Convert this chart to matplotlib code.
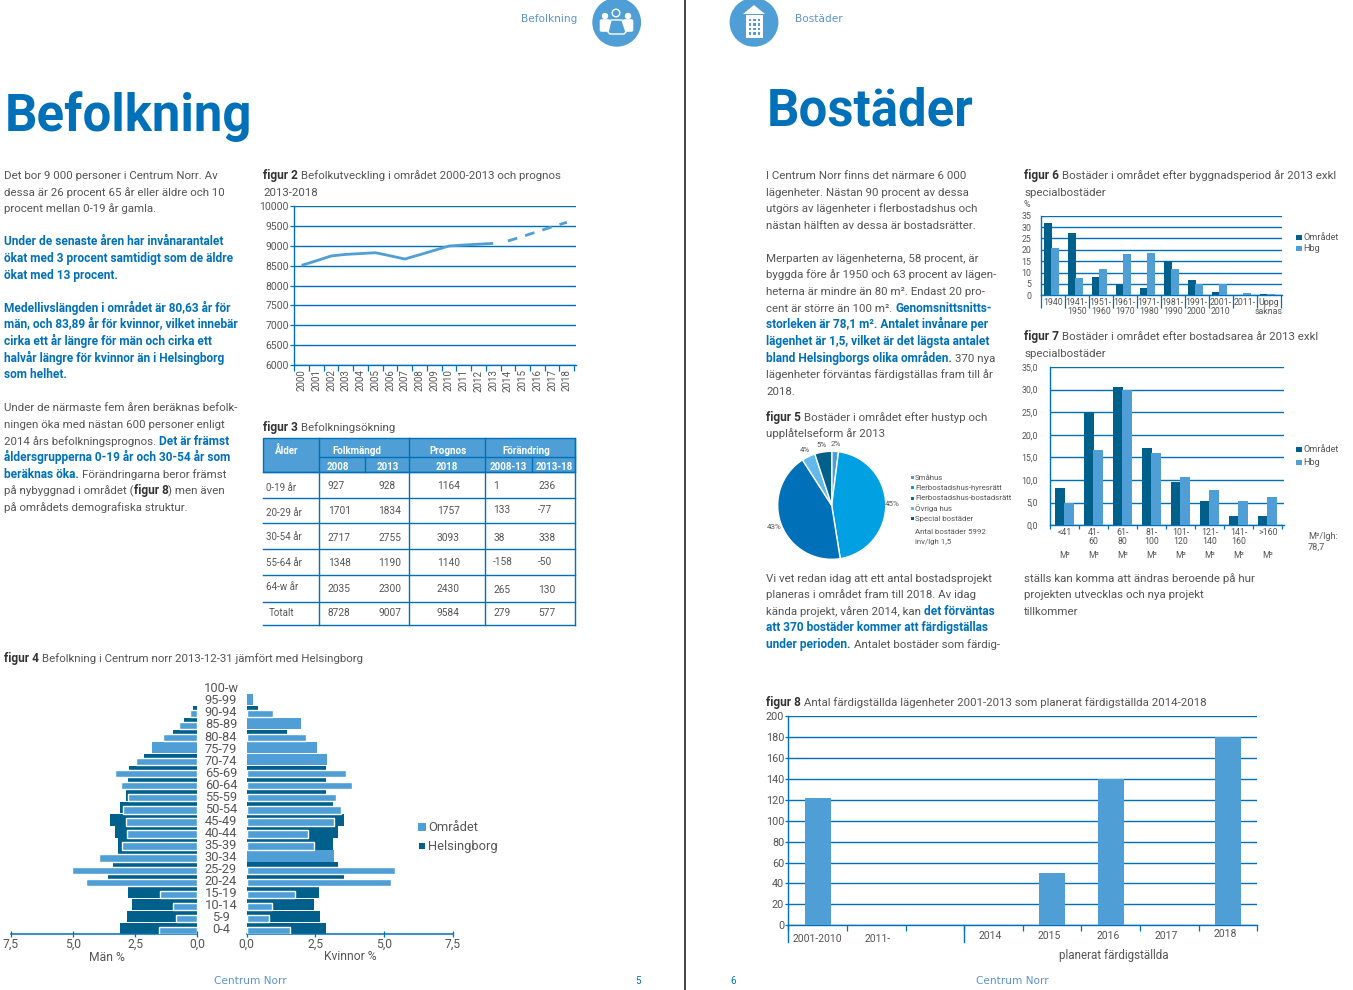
import numpy as np
import matplotlib
matplotlib.use("Agg")
import matplotlib.pyplot as plt
from matplotlib.patches import Circle, Rectangle, Polygon, FancyBboxPatch

W, H = 1353, 990
BLUE = "#0070b8"; LIGHT = "#4f9fd6"; DARK = "#00608c"; TXT = "#555555"; HEAD = "#5b93cf"
plt.rcParams["font.family"] = ["Roboto", "DejaVu Sans"]
px = 0.72  # points per pixel at dpi 100

# ---------- data ----------
ages = ["0-4","5-9","10-14","15-19","20-24","25-29","30-34","35-39","40-44","45-49","50-54",
        "55-59","60-64","65-69","70-74","75-79","80-84","85-89","90-94","95-99","100-w"]
men_hbg  = [3.11,2.83,2.63,2.79,3.60,3.40,3.19,3.19,3.32,3.52,3.11,2.87,2.79,2.75,2.15,0,0.98,0.54,0.17,0,0]
men_omr  = [1.53,0.83,0.97,1.49,4.48,5.05,3.96,3.02,2.82,2.86,2.98,2.78,3.07,3.32,2.47,1.83,1.38,0.74,0.30,0,0]
wom_hbg  = [2.88,2.66,2.44,2.62,3.53,3.31,0,3.13,3.31,3.53,3.13,2.88,2.88,2.88,0,0,1.46,0,0.41,0,0]
wom_omr  = [1.58,0.82,0.93,1.77,5.24,5.38,3.17,2.45,2.24,3.18,3.42,3.24,3.82,3.60,2.91,2.55,2.15,1.97,0.96,0.23,0]

pop_years = list(range(2000, 2019))
pop_actual = [8505,8620,8740,8780,8800,8822,8745,8664,8770,8880,8990,9015,9035,9055]
pop_prog_years = [2014,2015,2016,2017,2018]
pop_prog = [9115,9230,9350,9470,9584]

table_rows = [
    ["0-19 år","927","928","1164","1","236"],
    ["20-29 år","1701","1834","1757","133","-77"],
    ["30-54 år","2717","2755","3093","38","338"],
    ["55-64 år","1348","1190","1140","-158","-50"],
    ["64-w år","2035","2300","2430","265","130"],
    ["Totalt","8728","9007","9584","279","577"],
]

pie_names = ["Småhus","Flerbostadshus-hyresrätt","Flerbostadshus-bostadsrätt","Övriga hus","Special bostäder"]
pie_vals = [2,45,43,4,5]

f6_cats = ["1940","1941-\n1950","1951-\n1960","1961-\n1970","1971-\n1980","1981-\n1990","1991-\n2000","2001-\n2010","2011-","Uppg\nsaknas"]
f6_omr = [31.8,27.4,8.05,5.0,3.2,15.1,6.7,1.5,0,0.6]
f6_hbg = [20.8,7.6,11.6,18.2,18.6,11.6,4.8,5.0,1.0,0.6]

f7_cats = ["<41","41-\n60","61-\n80","81-\n100","101-\n120","121-\n140","141-\n160",">160"]
f7_omr = [8.3,25.0,30.6,17.0,9.5,5.4,2.0,2.0]
f7_hbg = [5.0,16.6,30.0,16.0,10.7,7.7,5.3,6.3]

f8_cats = ["2001-2010","2011-","","2014","2015","2016","2017","2018"]
f8_vals = [122,0,0,0,50,140,0,180]

# ---------- page ----------
fig = plt.figure(figsize=(W/100, H/100), dpi=100, facecolor="white")
page = fig.add_axes([0,0,1,1], zorder=5)
page.set_xlim(0,W); page.set_ylim(H,0); page.axis("off"); page.patch.set_alpha(0)
fig.canvas.draw()
rend = fig.canvas.get_renderer()

def axpx(x0, ytop, x1, ybot, **kw):
    ax = fig.add_axes([x0/W, 1-ybot/H, (x1-x0)/W, (ybot-ytop)/H], **kw)
    ax.patch.set_alpha(0)
    return ax

BODY = 8.28
BOLD = 8.55
def txt(x, y, s, size=BODY, color=TXT, weight="normal", ha="left", va="baseline", **kw):
    return page.text(x, y, s, fontsize=size, color=color, fontweight=weight, ha=ha, va=va, **kw)

def adv(s, size, weight):
    t = page.text(0,0,s+".",fontsize=size,fontweight=weight)
    t0 = page.text(0,0,".",fontsize=size,fontweight=weight)
    w = t.get_window_extent(rend).width - t0.get_window_extent(rend).width
    t.remove(); t0.remove()
    return w

def rich(x, y, segs):
    """segs: list of (text, kind); kind n=normal b=bold blue k=bold dark"""
    for s, k in segs:
        c = {"n":TXT, "b":BLUE, "k":"#333333"}[k]
        w = "normal" if k == "n" else "bold"
        size = BODY if k == "n" else BOLD
        txt(x, y, s, size=size, color=c, weight=w)
        x += adv(s, size, w)

N, B, K = "n", "b", "k"
left_col = [
 (175,[("Det bor 9 000 personer i Centrum Norr. Av",N)]),
 (191.5,[("dessa är 26 procent 65 år eller äldre och 10",N)]),
 (208,[("procent mellan 0-19 år gamla.",N)]),
 (241,[("Under de senaste åren har invånarantalet",B)]),
 (258,[("ökat med 3 procent samtidigt som de äldre",B)]),
 (275,[("ökat med 13 procent.",B)]),
 (308,[("Medellivslängden i området är 80,63 år för",B)]),
 (324,[("män, och 83,89 år för kvinnor, vilket innebär",B)]),
 (341,[("cirka ett år längre för män och cirka ett",B)]),
 (358,[("halvår längre för kvinnor än i Helsingborg",B)]),
 (374,[("som helhet.",B)]),
 (407,[("Under de närmaste fem åren beräknas befolk-",N)]),
 (424,[("ningen öka med nästan 600 personer enligt",N)]),
 (441,[("2014 års befolkningsprognos. ",N),("Det är främst",B)]),
 (457,[("åldersgrupperna 0-19 år och 30-54 år som",B)]),
 (474,[("beräknas öka. ",B),("Förändringarna beror främst",N)]),
 (490,[("på nybyggnad i området (",N),("figur 8",K),(") men även",N)]),
 (507,[("på områdets demografiska struktur.",N)]),
]
for y, s in left_col: rich(4, y+4, s)

mid_col = [
 (175,[("I Centrum Norr finns det närmare 6 000",N)]),
 (191.5,[("lägenheter. Nästan 90 procent av dessa",N)]),
 (208,[("utgörs av lägenheter i flerbostadshus och",N)]),
 (225,[("nästan hälften av dessa är bostadsrätter.",N)]),
 (258,[("Merparten av lägenheterna, 58 procent, är",N)]),
 (274,[("byggda före år 1950 och 63 procent av lägen-",N)]),
 (291,[("heterna är mindre än 80 m². Endast 20 pro-",N)]),
 (308,[("cent är större än 100 m². ",N),("Genomsnittsnitts-",B)]),
 (324,[("storleken är 78,1 m². Antalet invånare per",B)]),
 (341,[("lägenhet är 1,5, vilket är det lägsta antalet",B)]),
 (358,[("bland Helsingborgs olika områden. ",B),("370 nya",N)]),
 (374,[("lägenheter förväntas färdigställas fram till år",N)]),
 (391,[("2018.",N)]),
 (578,[("Vi vet redan idag att ett antal bostadsprojekt",N)]),
 (594,[("planeras i området fram till 2018. Av idag",N)]),
 (611,[("kända projekt, våren 2014, kan ",N),("det förväntas",B)]),
 (627,[("att 370 bostäder kommer att färdigställas",B)]),
 (644,[("under perioden. ",B),("Antalet bostäder som färdig-",N)]),
]
for y, s in mid_col: rich(766, y+4, s)
for y, s in [(578,"ställs kan komma att ändras beroende på hur"),(594,"projekten utvecklas och nya projekt"),(611,"tillkommer")]:
    txt(1024, y+4, s)

fig_titles = [
 (263,175,"figur 2"," Befolkutveckling i området 2000-2013 och prognos"),
 (263,191.5,"","2013-2018"),
 (263,427,"figur 3"," Befolkningsökning"),
 (4,658,"figur 4"," Befolkning i Centrum norr 2013-12-31 jämfört med Helsingborg"),
 (766,417,"figur 5"," Bostäder i området efter hustyp och"),
 (766,433,"","upplåtelseform år 2013"),
 (1024,175,"figur 6"," Bostäder i området efter byggnadsperiod år 2013 exkl"),
 (1024,192,"","specialbostäder"),
 (1024,336,"figur 7"," Bostäder i området efter bostadsarea år 2013 exkl"),
 (1024,353,"","specialbostäder"),
 (766,702,"figur 8"," Antal färdigställda lägenheter 2001-2013 som planerat färdigställda 2014-2018"),
]
for x,y,a,b in fig_titles:
    rich(x, y+4, ([(a,K)] if a else [])+[(b,N)])

txt(5, 131, "Befolkning", size=36.6, color=BLUE, weight="bold")
txt(767, 126, "Bostäder", size=36.6, color=BLUE, weight="bold")
SPACED = dict(size=7.6, color=HEAD, family="DejaVu Sans")
txt(577, 22, "Befolkning", ha="right", **SPACED)
txt(795, 22, "Bostäder", **SPACED)
txt(250, 984, "Centrum Norr", ha="center", **SPACED)
txt(1012, 984, "Centrum Norr", ha="center", **SPACED)
txt(638, 984, "5", size=7, color=BLUE, ha="center")
txt(733, 984, "6", size=7, color=BLUE, ha="center")
page.plot([684.7,684.7],[0,990],color="#4a4a4a",lw=2*px)

# icons
page.add_patch(Circle((616.7,22.3),24.4,fc=LIGHT,ec="none"))
for cx, sx in ((605,-1),(628,1)):
    page.add_patch(Circle((cx,16),3.2,fc="white",ec="none"))
    page.add_patch(FancyBboxPatch((cx-3.5,21),7,9,boxstyle="round,pad=1.8",fc="white",ec="none"))
page.add_patch(Polygon([(611,20),(622,20),(626,32),(624,34),(610,34),(608,32)],closed=True,fc=LIGHT,ec="white",lw=1))
page.add_patch(Circle((616,13),3.8,fc=LIGHT,ec="white",lw=1))
page.add_patch(Circle((754,22.3),24.4,fc=LIGHT,ec="none"))
page.add_patch(Polygon([(743,14),(754,5),(765,14)],closed=True,fc="white",ec="none"))
page.add_patch(Rectangle((746,15),17,23,fc="white",ec="none"))
for r in range(4):
    for c in range(3):
        page.add_patch(Rectangle((748.5+c*4.5,18.5+r*4.5),2.6,2.6,fc=LIGHT,ec="none"))

# ---------- pyramid ----------
def pyr(ax, hbg, omr):
    y = np.arange(len(ages))
    for i in y:
        if hbg[i] > 0:
            ax.barh(i+0.47, hbg[i], height=0.93, color=DARK, zorder=2)
        full = hbg[i] == 0 and omr[i] > 0
        if full:
            ax.barh(i+0.47, omr[i], height=0.93, color=LIGHT, zorder=3)
        elif omr[i] > 0:
            ax.barh(i+0.30, omr[i], height=0.60, color=LIGHT, edgecolor="white", linewidth=1, zorder=3)
    ax.set_ylim(0,21)
    ax.yaxis.set_visible(False)
    for s in ("left","right","top"): ax.spines[s].set_visible(False)
    ax.spines["bottom"].set_color(BLUE); ax.spines["bottom"].set_linewidth(1.1)
    ax.set_xticks([0,2.5,5,7.5]); ax.set_xticklabels(["0,0","2,5","5,0","7,5"])
    ax.tick_params(axis="x",length=4,width=0.9,color=BLUE,labelcolor=TXT,labelsize=8.7,pad=1,direction="inout")

pl = axpx(11,681,197,934); pl.set_xlim(7.5,0); pyr(pl, men_hbg, men_omr)
pr = axpx(246.5,681,453,934); pr.set_xlim(0,7.5); pyr(pr, wom_hbg, wom_omr)
for i,a in enumerate(ages):
    pl.text(1+24/186, i+0.35, a, transform=pl.get_yaxis_transform(), ha="center", va="center", fontsize=9.3, color=TXT, zorder=6)
txt(107,961,"Män %",size=8.7,ha="center")
txt(350,960,"Kvinnor %",size=8.7,ha="center")
page.add_patch(Rectangle((418,823),7.5,8,fc=LIGHT,ec="none"))
page.add_patch(Rectangle((419,842.5),5.5,6,fc=DARK,ec="none"))
txt(428,831,"Området",size=9.3)
txt(428,850,"Helsingborg",size=9.3)

# ---------- figur 2 ----------
a2 = axpx(294.3,205.7,575.7,365.3)
a2.set_xlim(1999.5,2018.6); a2.set_ylim(6000,10000)
a2.set_yticks(range(6000,10001,500))
a2.grid(axis="y",color=BLUE,lw=1.0)
a2.set_axisbelow(True)
a2.plot(pop_years[:len(pop_actual)],pop_actual,color=LIGHT,lw=2.0,zorder=3,solid_capstyle="butt")
a2.plot(pop_prog_years,pop_prog,color=LIGHT,lw=2.0,ls=(0,(3.5,3)),zorder=3)
for s in ("right","top"): a2.spines[s].set_visible(False)
for s in ("left","bottom"): a2.spines[s].set_color(BLUE); a2.spines[s].set_linewidth(1.0)
a2.set_xticks(np.arange(1999.5,2019.5,1))
a2.set_xticklabels([])
a2.set_xticks(pop_years,minor=True)
a2.set_xticklabels([str(y) for y in pop_years],minor=True,rotation=90)
a2.tick_params(axis="x",which="major",length=4,width=0.9,color=BLUE)
a2.tick_params(axis="x",which="minor",length=0,labelsize=7.0,labelcolor=TXT,pad=3)
a2.tick_params(axis="y",length=3,width=0.9,color=BLUE,labelsize=7.5,labelcolor=TXT,pad=1)

# ---------- figur 3 table ----------
xo = [319.3,409.3,485.3,575.3]
page.add_patch(Rectangle((263.3,437.7),312,34.6,fc=LIGHT,ec=BLUE,lw=1.0,zorder=2))
row_y = [472.3,498.3,523.3,549.3,575.3,602.3,625.3]
for y in row_y:
    page.plot([263.3,575.3],[y,y],color=BLUE,lw=1.0,zorder=3)
for x in xo:
    page.plot([x,x],[437.7,625.3],color=BLUE,lw=1.0,zorder=3)
page.plot([319.3,575.3],[457.3,457.3],color=BLUE,lw=1.0,zorder=3)
page.plot([365.3,365.3],[457.3,472.3],color=BLUE,lw=1.0,zorder=3)
page.plot([531.7,531.7],[457.3,472.3],color=BLUE,lw=1.0,zorder=3)
for x,y,s in [(287,454,"Ålder"),(357,454,"Folkmängd"),(448,454,"Prognos"),(526,454,"Förändring"),
              (337.5,470,"2008"),(388,470,"2013"),(447,470,"2018"),(508,470,"2008-13"),(554.5,470,"2013-18")]:
    txt(x,y,s,size=7.0,color="white",weight="bold",ha="center",zorder=4)
label_pos = [(266.3,491),(265.7,516.5),(266.3,540.5),(266.3,565.5),(265.7,590),(268.3,615.5)]
val_base = [488.7,514,540.7,566.3,591.7,615.7]
chg_base = [488.7,512.7,540.7,565,592.7,615.7]
cell_x = [328,378.5,436.7,493.3,538.3]
for r,row in enumerate(table_rows):
    txt(label_pos[r][0],label_pos[r][1],row[0],size=7.0)
    for c,s in enumerate(row[1:]):
        txt(cell_x[c],(chg_base if c>=3 else val_base)[r],s,size=7.3)

# ---------- pie ----------
R = 54; cx, cy = 831.7, 505.3
a5 = axpx(cx-R*1.25,cy-R*1.25,cx+R*1.25,cy+R*1.25)
pie_cols = [LIGHT,"#00a0e3",BLUE,"#63b8ea",DARK]
a5.pie(pie_vals,colors=pie_cols,startangle=90,counterclock=False,
       labels=[f"{v}%" for v in pie_vals],labeldistance=1.13,
       wedgeprops=dict(edgecolor="white",linewidth=1),
       textprops=dict(fontsize=5.8,color=TXT,ha="center",va="center"))
a5.set_xlim(-1.25,1.25); a5.set_ylim(-1.25,1.25)
for i,(n,y) in enumerate(zip(pie_names,[477.7,487.7,498,508.7,518.7])):
    page.add_patch(Rectangle((911,y-1.5),2.8,3.2,fc=pie_cols[i],ec="none"))
    txt(915,y+2.3,n,size=5.7)
txt(915,534.5,"Antal bostäder 5992",size=5.7)
txt(915,544,"inv/lgh 1,5",size=5.7)

# ---------- bar helper ----------
def group_bars(ax, cats, omr, hbg, d0, d1, w):
    x = np.arange(len(cats))+0.5
    ax.bar(x+d0,omr,width=w,color=DARK,zorder=3)
    ax.bar(x+d1,hbg,width=w,color=LIGHT,zorder=3)
    ax.set_axisbelow(True)
    ax.grid(axis="y",color=BLUE,lw=1.0)
    for s in ("right","top"): ax.spines[s].set_visible(False)
    for s in ("left","bottom"): ax.spines[s].set_color(BLUE); ax.spines[s].set_linewidth(1.0)
    ax.set_xticks(np.arange(len(cats)+1)); ax.set_xticklabels([])
    ax.set_xticks(x,minor=True)
    ax.set_xticklabels(cats,minor=True,linespacing=1.0,ha="center")

# figur 6
a6 = axpx(1040.7,215.7,1282.3,295.3)
a6.set_xlim(0,10.07); a6.set_ylim(0,35); a6.set_yticks(range(0,36,5))
group_bars(a6,f6_cats,f6_omr,f6_hbg,-0.19,0.10,0.31)
a6.tick_params(axis="x",which="major",length=9,width=0.9,color=BLUE)
a6.tick_params(axis="x",which="minor",length=0,labelsize=6.3,labelcolor=TXT,pad=2)
a6.tick_params(axis="y",length=0,labelsize=6.3,labelcolor=TXT,pad=7)
txt(1024,207,"%",size=6.3)
for y,c,n in [(237,DARK,"Området"),(248,LIGHT,"Hbg")]:
    page.add_patch(Rectangle((1296,y-2.5),5.5,5.5,fc=c,ec="none"))
    txt(1303,y+3,n,size=6.6)

# figur 7
a7 = axpx(1050.3,367,1284.3,525.3)
a7.set_xlim(0,8.07); a7.set_ylim(0,35); a7.set_yticks(range(0,36,5))
a7.set_yticklabels([f"{v},0" for v in range(0,36,5)])
group_bars(a7,f7_cats,f7_omr,f7_hbg,-0.167,0.14,0.345)
a7.tick_params(axis="x",which="major",length=3,width=0.9,color=BLUE)
a7.tick_params(axis="x",which="minor",length=0,labelsize=6.3,labelcolor=TXT,pad=2)
a7.tick_params(axis="y",length=0,labelsize=6.3,labelcolor=TXT,pad=9)
for i in range(8):
    a7.annotate("M²",xy=(i+0.5,0),xycoords=("data","axes fraction"),xytext=(0,-33*px),textcoords="offset points",
                ha="center",fontsize=6.3,color=TXT)
for y,c,n in [(449,DARK,"Området"),(462,LIGHT,"Hbg")]:
    page.add_patch(Rectangle((1296,y-2.5),5.5,5.5,fc=c,ec="none"))
    txt(1303,y+3,n,size=6.6)
txt(1308,539,"M²/lgh:",size=6.6)
txt(1308,550,"78,7",size=6.6)

# figur 8
a8 = axpx(788.3,716,1257.3,925.3)
a8.set_xlim(0,8); a8.set_ylim(0,200); a8.set_yticks(range(0,201,20))
x8 = np.arange(8)+0.5
a8.bar(x8,f8_vals,width=0.445,color=LIGHT,zorder=3)
a8.set_axisbelow(True)
a8.grid(axis="y",color=BLUE,lw=1.0)
for s in ("right","top"): a8.spines[s].set_visible(False)
for s in ("left","bottom"): a8.spines[s].set_color(BLUE); a8.spines[s].set_linewidth(1.0)
a8.set_xticks(np.arange(9)); a8.set_xticklabels([])
a8.tick_params(axis="x",length=4,width=0.9,color=BLUE)
a8.tick_params(axis="y",length=2,width=0.9,color=BLUE,labelsize=7.8,labelcolor=TXT,pad=1)
for xp in (0,3):
    a8.plot([xp,xp],[0,-16],color=BLUE,lw=1.0,clip_on=False,zorder=4)
for i,c in enumerate(f8_cats):
    if not c: continue
    yo = -13 if i<2 else (-8 if i==7 else -10)
    xo8 = {0:0.0,1:0.02,7:-0.05}.get(i,-0.05)
    a8.text(i+0.5+xo8,yo,c,ha="center",va="center",fontsize=7.5,color=TXT)
txt(1114,959,"planerat färdigställda",size=8.4,ha="center")

fig.savefig("out.png",dpi=100)
